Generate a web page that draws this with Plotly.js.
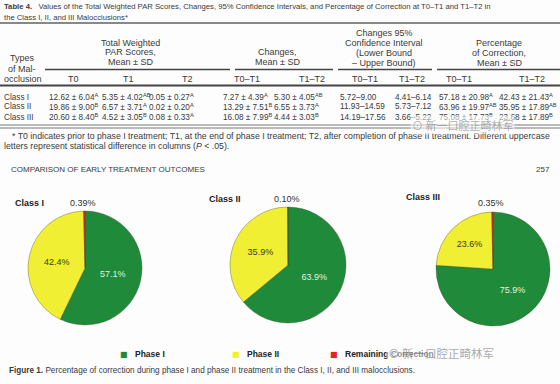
<!DOCTYPE html>
<html><head><meta charset="utf-8">
<script src="https://cdn.plot.ly/plotly-3.0.1.min.js"></script>
<style>html,body{margin:0;padding:0;background:#fdfdfd}#chart{width:560px;height:384px}</style>
</head><body><div id="chart"></div>
<script>
// ---------- DATA ----------
const tableTitleLine1 = '<b>Table 4.</b>   Values of the Total Weighted PAR Scores, Changes, 95% Confidence Intervals, and Percentage of Correction at T0–T1 and T1–T2 in';
const tableTitleLine2 = 'the Class I, II, and III Malocclusions*';
const groupHeaders = [
  ['Total Weighted','PAR Scores,','Mean ± SD'],
  ['Changes,','Mean ± SD'],
  ['Changes 95%','Confidence Interval','(Lower Bound','– Upper Bound)'],
  ['Percentage','of Correction,','Mean ± SD']
];
const typeHeader = ['Types','of Mal-','occlusion'];
const subHeaders = ['T0','T1','T2','T0–T1','T1–T2','T0–T1','T1–T2','T0–T1','T1–T2'];
const rowLabels = ['Class I','Class II','Class III'];
const colT0   = ['12.62 ± 6.04<sup>A</sup>','19.86 ± 9.00<sup>B</sup>','20.60 ± 8.40<sup>B</sup>'];
const colT1   = ['5.35 ± 4.02<sup>AB</sup>','6.57 ± 3.71<sup>A</sup>','4.52 ± 3.05<sup>B</sup>'];
const colT2   = ['0.05 ± 0.27<sup>A</sup>','0.02 ± 0.20<sup>A</sup>','0.08 ± 0.33<sup>A</sup>'];
const colChg1 = ['7.27 ± 4.39<sup>A</sup>','13.29 ± 7.51<sup>B</sup>','16.08 ± 7.99<sup>B</sup>'];
const colChg2 = ['5.30 ± 4.05<sup>AB</sup>','6.55 ± 3.73<sup>A</sup>','4.44 ± 3.03<sup>B</sup>'];
const colCI1  = ['5.72–9.00','11.93–14.59','14.19–17.56'];
const colCI2  = ['4.41–6.14','5.73–7.12','3.66–5.22'];
const colPct1 = ['57.18 ± 20.98<sup>A</sup>','63.96 ± 19.97<sup>AB</sup>','75.08 ± 17.73<sup>B</sup>'];
const colPct2 = ['42.43 ± 21.43<sup>A</sup>','35.95 ± 17.89<sup>AB</sup>','23.68 ± 17.89<sup>B</sup>'];
const footnote1 = '* T0 indicates prior to phase I treatment; T1, at the end of phase I treatment; T2, after completion of phase II treatment. Different uppercase';
const footnote2 = 'letters represent statistical difference in columns (<i>P</i> < .05).';
const pageHeader = 'COMPARISON OF EARLY TREATMENT OUTCOMES';
const pageNumber = '257';

const pieClasses = ['Class I','Class II','Class III'];
const phaseNames = ['Phase I','Phase II','Remaining Correction'];
const phase1 = [57.1, 63.9, 75.9];
const phase2 = [42.4, 35.9, 23.6];
const remaining = [0.39, 0.10, 0.35];
const caption = '<b>Figure 1.</b> Percentage of correction during phase I and phase II treatment in the Class I, II, and III malocclusions.';
const watermark = '新一口腔正畸林军';

// ---------- STYLE / LAYOUT ----------
const W = 560, H = 384;
const X = p => p / W, Y = p => 1 - p / H;
const FONT = 'Liberation Sans, Arial, sans-serif';
const TXT = '#3a3a3a';
const phaseColors = ['#1f8a3a', '#f1ef34', '#e0281c'];

const annotations = [];
function ann(text, x, y, o) {
  o = o || {};
  annotations.push(Object.assign({
    text: text, x: X(x), y: Y(y), xref: 'paper', yref: 'paper',
    xanchor: o.anchor || 'left', yanchor: 'middle', showarrow: false,
    font: { family: o.family || FONT, size: o.size || 8, color: o.color || TXT }
  }, o.extra || {}));
}

// table title
ann(tableTitleLine1, 2, 6, { size: 7.7 });
ann(tableTitleLine2, 2, 17, { size: 7.7 });
// headers
const groupCenters = [130, 277, 384, 499];
const groupLineY = [[43, 52, 62], [52, 62], [33, 43, 53, 63], [43, 53, 63]];
groupHeaders.forEach((g, gi) => g.forEach((t, li) => ann(t, groupCenters[gi], groupLineY[gi][li], { anchor: 'center', size: 9 })));
[58, 69, 79].forEach((yy, i) => ann(typeHeader[i], i === 2 ? 2 : 22, yy, { anchor: i === 2 ? 'left' : 'center', size: 9 }));
const subX = [73, 128, 188, 247, 312, 365, 412, 459, 532];
subHeaders.forEach((t, i) => ann(t, subX[i], 79, { anchor: 'center', size: 9 }));
// data rows
const cols = [rowLabels, colT0, colT1, colT2, colChg1, colChg2, colCI1, colCI2, colPct1, colPct2];
const colX = [2, 47, 100, 147, 221, 272, 338, 393, 437, 497];
const rowY = [97, 107, 117];
cols.forEach((c, ci) => c.forEach((t, ri) => ann(t, colX[ci], rowY[ri], { size: 8.2 })));
ann(footnote1, 10, 136, { size: 8.75 });
ann(footnote2, 2, 146, { size: 8.75 });
ann(pageHeader, 9, 169, { size: 8 });
ann(pageNumber, 552, 169, { anchor: 'right', size: 8 });

// pie labels
const pieLabelPos = [[13, 203, 83, 203], [207, 199, 287, 199], [404, 197, 491, 203]];
pieClasses.forEach((c, i) => {
  ann('<b>' + c + '</b>', pieLabelPos[i][0], pieLabelPos[i][1], { size: 9, color: '#222' });
  ann(remaining[i].toFixed(2) + '%', pieLabelPos[i][2], pieLabelPos[i][3], { anchor: 'center', size: 9, color: '#333' });
});

// legend (manual)
const legX = [118, 230, 328];
phaseNames.forEach((n, i) => {
  ann('■', legX[i], 354, { size: 8, color: phaseColors[i], family: 'DejaVu Sans' });
  ann('<b>' + n + '</b>', legX[i] + 15, 354, { size: 8.5, color: '#222' });
});
ann(caption, 7, 370, { size: 8.2 });

// watermarks
ann('⊙ ' + watermark, 410, 125, { size: 11, color: 'rgba(110,110,110,0.55)', family: 'Noto Sans CJK SC', extra: { bgcolor: 'rgba(253,253,253,0.55)' } });
ann('⊙ ' + watermark, 386, 353, { size: 11.5, color: 'rgba(110,110,110,0.6)', family: 'Noto Sans CJK SC', extra: { bgcolor: 'rgba(253,253,253,0.5)' } });

// rules
const shapes = [];
function hline(x0, x1, y, w, c) {
  shapes.push({ type: 'line', xref: 'paper', yref: 'paper', x0: X(x0), x1: X(x1), y0: Y(y), y1: Y(y), line: { color: c || '#555', width: w || 1 } });
}
hline(0, 560, 23, 2, '#888');
hline(45, 230, 69.5, 1.5, '#444');
hline(235, 333, 69.5, 1.5, '#444');
hline(338, 432, 69.5, 1.5, '#444');
hline(437, 560, 69.5, 1.5, '#444');
hline(0, 560, 85.5, 2, '#444');
hline(0, 560, 125, 1, '#777');
hline(0, 560, 128, 1, '#777');

// pies
const pieDomains = [
  { x: [28, 142], y: [211, 325] },
  { x: [230, 346], y: [207, 323] },
  { x: [436, 550], y: [212, 326] }
];
const traces = pieClasses.map((c, i) => {
  const vals = [phase1[i], phase2[i], remaining[i]];
  return {
    type: 'pie', name: c, values: vals, labels: phaseNames,
    text: vals.map(v => (v < 1 ? v.toFixed(2) : v.toFixed(1)) + '%'),
    textinfo: 'text', textposition: ['inside', 'inside', 'none'],
    insidetextorientation: 'horizontal',
    insidetextfont: { family: FONT, size: 9, color: ['#e3f0e0', '#3a3a12', '#000'] },
    sort: false, direction: 'clockwise', rotation: 0,
    marker: { colors: phaseColors, line: { color: 'rgba(70,70,40,0.6)', width: 0.6 } },
    domain: { x: [X(pieDomains[i].x[0]), X(pieDomains[i].x[1])], y: [Y(pieDomains[i].y[1]), Y(pieDomains[i].y[0])] },
    showlegend: false, hoverinfo: 'label+value'
  };
});

Plotly.newPlot('chart', traces, {
  width: W, height: H, margin: { l: 0, r: 0, t: 0, b: 0 },
  paper_bgcolor: '#fdfdfd', plot_bgcolor: '#fdfdfd',
  showlegend: false, annotations: annotations, shapes: shapes,
  font: { family: FONT }
}, { displayModeBar: false, staticPlot: true });
</script></body></html>
